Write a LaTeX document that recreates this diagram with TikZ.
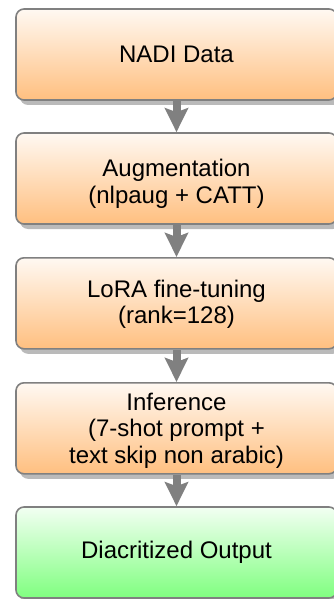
\documentclass[tikz,border=0pt]{standalone}
\usepackage{fontspec}
\setmainfont{Liberation Sans}
\usetikzlibrary{shadows,arrows.meta}
\newcommand\mystrut[1]{\rule{0pt}{#1}}
\begin{document}
\begin{tikzpicture}[x=1pt,y=1pt,
  stepbox/.style={rectangle, rounded corners=8pt, draw=black!50, line width=1.6pt,
    minimum width=321pt, minimum height=91pt, inner sep=0pt, align=center,
    font=\fontsize{24}{26.8}\selectfont,
    drop shadow={shadow xshift=4pt, shadow yshift=-5pt, fill=black!27, opacity=1}},
  orangebox/.style={stepbox, top color=orange!5, bottom color=orange!50},
  greenbox/.style={stepbox, top color=green!5, bottom color=green!50},
  flow/.style={draw=black!50, line width=8pt, -{Stealth[length=24pt,width=23pt,inset=4pt]}}
]
\useasboundingbox (0,0) rectangle (334,-599);
\node[orangebox] (a) at (176.5,-54.5) {NADI Data};
\node[orangebox] (b) at (176.5,-178.5) {\mystrut{27.2pt}Augmentation\\(nlpaug + CATT)};
\node[orangebox] (c) at (176.5,-303.3) {\mystrut{19.5pt}LoRA fine-tuning\\(rank=128)};
\node[orangebox] (d) at (176.5,-428.3) {\mystrut{22.1pt}Inference\\(7-shot prompt +\\text skip non arabic)};
\node[greenbox] (e) at (176.5,-552.5) {Diacritized Output};
\draw[flow] (a.south) -- (b.north);
\draw[flow] (b.south) -- (c.north);
\draw[flow] (c.south) -- (d.north);
\draw[flow] (d.south) -- (e.north);
\end{tikzpicture}
\end{document}
